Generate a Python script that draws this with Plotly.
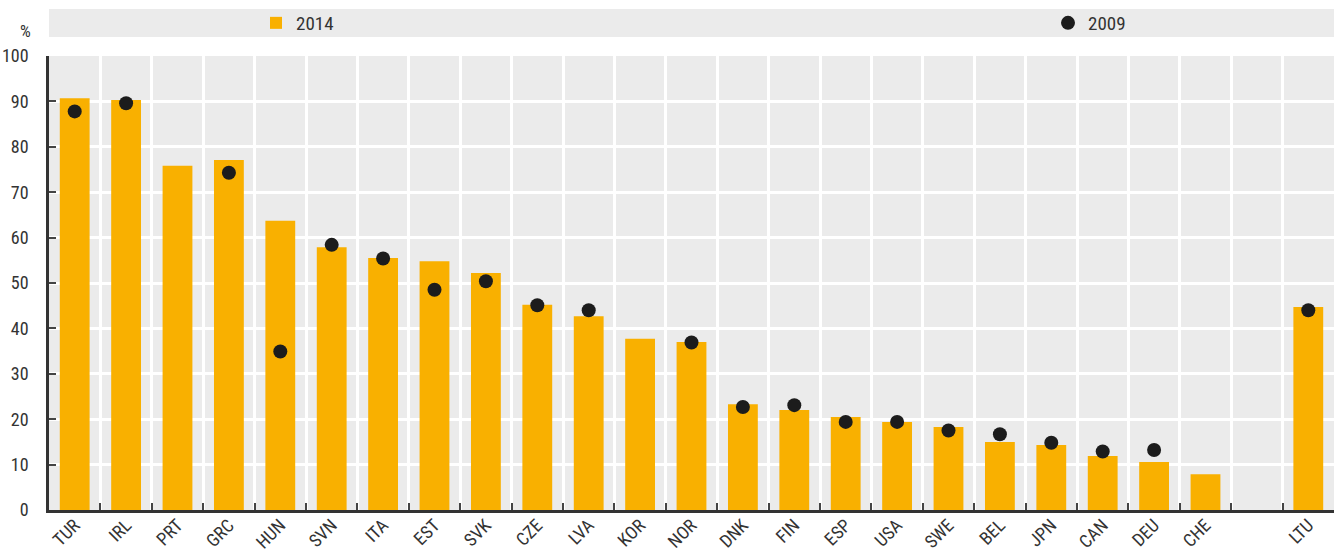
import plotly.graph_objects as go

categories = ["TUR", "IRL", "PRT", "GRC", "HUN", "SVN", "ITA", "EST", "SVK", "CZE",
              "LVA", "KOR", "NOR", "DNK", "FIN", "ESP", "USA", "SWE", "BEL", "JPN",
              "CAN", "DEU", "CHE", " ", "LTU"]
values_2014 = [90.7, 90.3, 75.8, 77.1, 63.7, 57.9, 55.5, 54.8, 52.2, 45.2,
               42.7, 37.7, 37.0, 23.3, 22.0, 20.5, 19.4, 18.3, 15.0, 14.3,
               11.9, 10.6, 7.9, None, 44.7]
values_2009 = [87.8, 89.6, None, 74.3, 34.9, 58.4, 55.4, 48.5, 50.4, 45.1,
               44.0, None, 36.9, 22.7, 23.1, 19.4, 19.4, 17.5, 16.7, 14.8,
               12.9, 13.2, None, None, 44.0]

FONT = "Liberation Sans Narrow, Roboto Condensed, Arial Narrow, Liberation Sans, sans-serif"
BAR = "#F9B000"
DOT = "#1c1c1c"
TXT = "#333333"

fig = go.Figure()
fig.add_trace(go.Bar(x=categories, y=values_2014, name="2014", legend="legend",
                     marker=dict(color=BAR, line=dict(width=0)), width=0.58))
fig.add_trace(go.Scatter(x=categories, y=values_2009, name="2009", mode="markers",
                         legend="legend2",
                         marker=dict(color=DOT, size=14, line=dict(width=0))))

PLOT_W = 1343 - 49 - 9
PLOT_H = 552 - 56 - 42

# legend band
fig.add_shape(type="rect", xref="paper", yref="paper", x0=0, x1=1,
              y0=(510 - 37) / PLOT_H, y1=(510 - 9) / PLOT_H,
              fillcolor="#EBEBEB", line=dict(width=0), layer="below")

fig.add_annotation(text="%", xref="paper", yref="paper", x=(25 - 49) / PLOT_W,
                   y=(510 - 31) / PLOT_H,
                   xanchor="center", yanchor="middle", showarrow=False,
                   font=dict(family=FONT, size=17, color=TXT))

legend_common = dict(orientation="h", xanchor="left", yanchor="middle",
                     y=(510 - 23) / PLOT_H, bgcolor="rgba(0,0,0,0)",
                     font=dict(family=FONT, size=19, color=TXT))

fig.update_layout(
    width=1343, height=552,
    margin=dict(l=49, r=9, t=56, b=42, autoexpand=False),
    paper_bgcolor="white", plot_bgcolor="#EBEBEB",
    font=dict(family=FONT, size=16, color=TXT),
    showlegend=True,
    legend=dict(x=(256 - 49) / PLOT_W, **legend_common),
    legend2=dict(x=(1048 - 49) / PLOT_W, **legend_common),
    xaxis=dict(type="category", categoryorder="array", categoryarray=categories,
               range=[-0.5, len(categories) - 0.5], automargin=False,
               tickson="boundaries", ticks="inside", ticklen=7, tickcolor="#444444",
               tickwidth=1.5, showgrid=True, gridcolor="white", gridwidth=2.5,
               showline=True, linecolor="#333333", linewidth=2.5,
               ticklabelstandoff=-5,
               tickangle=-45, tickfont=dict(family=FONT, size=18, color=TXT)),
    yaxis=dict(range=[0, 100], dtick=10, ticks="inside", ticklen=7, tickcolor="#444444",
               tickwidth=1.5, showgrid=True, gridcolor="white", gridwidth=2.5,
               showline=True, linecolor="#333333", linewidth=2.5, zeroline=False,
               ticklabelstandoff=14, automargin=False,
               tickfont=dict(family=FONT, size=18, color=TXT)),
)

fig.write_html("out.html", config={"displayModeBar": False},
               post_script="document.body.style.margin='0';document.body.style.padding='0';")
